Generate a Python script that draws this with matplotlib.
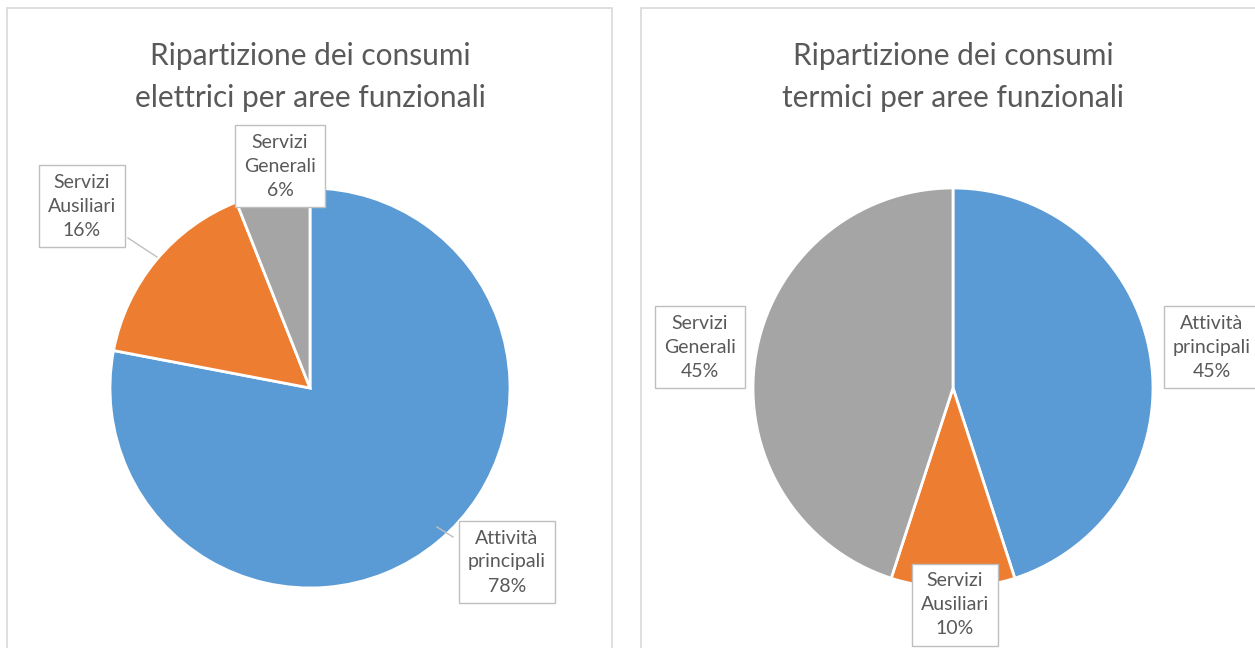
import matplotlib.pyplot as plt
from matplotlib.patches import Rectangle

W, H = 1255, 648

# data
categories = ["Attività\nprincipali", "Servizi\nAusiliari", "Servizi\nGenerali"]
elettrici = [78, 16, 6]
termici = [45, 10, 45]
colors = ["#5b9bd5", "#ed7d31", "#a5a5a5"]
titles = ["Ripartizione dei consumi\nelettrici per aree funzionali",
          "Ripartizione dei consumi\ntermici per aree funzionali"]

TXT = "#595959"
plt.rcParams['font.family'] = ['Lato', 'DejaVu Sans']


def px(x, y):
    # pixel (from top-left) -> figure fraction
    return x / W, 1 - y / H


fig = plt.figure(figsize=(W / 100, H / 100), dpi=100)

# panel borders
for x0, x1 in [(7, 612), (641, 1262)]:
    fig.patches.append(Rectangle(px(x0, 660), (x1 - x0) / W, (660 - 8) / H,
                                 transform=fig.transFigure, fill=False,
                                 edgecolor="#d9d9d9", linewidth=1.2))


def draw_pie(cx, values, title, labels_px, leaders):
    r = 200
    ax = fig.add_axes([(cx - r) / W, (H - 388 - r) / H, 2 * r / W, 2 * r / H])
    ax.pie(values, colors=colors, startangle=90, counterclock=False,
           wedgeprops=dict(edgecolor="white", linewidth=2))
    ax.set_xlim(-1, 1)
    ax.set_ylim(-1, 1)
    ax.axis("off")
    fig.text(*px(cx, 77), title, ha="center", va="center", fontsize=21.5,
             color=TXT, linespacing=1.6)
    for cat, v, (lx, ly) in zip(categories, values, labels_px):
        fig.text(*px(lx, ly), f"{cat}\n{v}%", ha="center", va="center",
                 fontsize=14, color=TXT, linespacing=1.5,
                 bbox=dict(boxstyle="square,pad=0.45", facecolor="white",
                           edgecolor="#bfbfbf", linewidth=1))
    for (x0, y0), (x1, y1) in leaders:
        fig.add_artist(plt.Line2D([x0 / W, x1 / W], [1 - y0 / H, 1 - y1 / H],
                                  transform=fig.transFigure, color="#bfbfbf",
                                  linewidth=1))


draw_pie(310, elettrici, titles[0],
         [(507, 562), (82, 206), (280, 166)],
         [((453, 537), (437, 527)), ((128, 238), (157, 257))])
draw_pie(953, termici, titles[1],
         [(1212, 347), (955, 605), (700, 347)],
         [])

fig.savefig("out.png", dpi=100)
